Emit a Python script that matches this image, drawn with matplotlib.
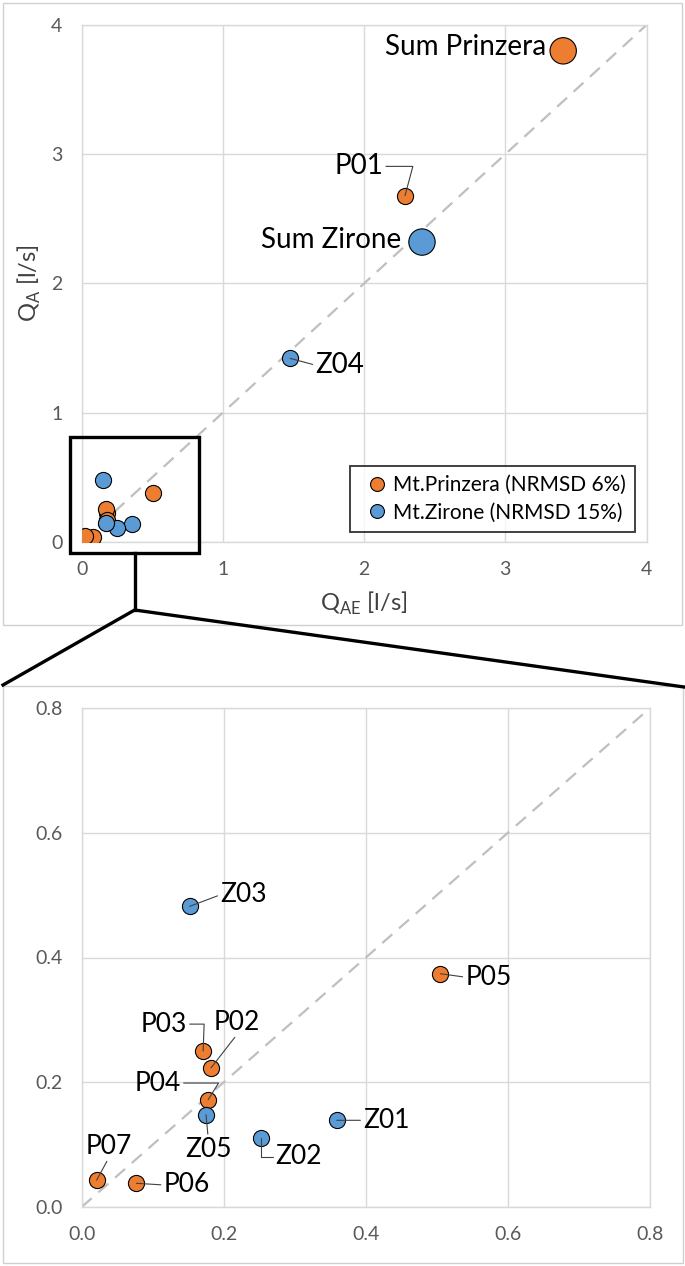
import numpy as np
import matplotlib
matplotlib.use('Agg')
import matplotlib.pyplot as plt
from matplotlib.patches import Rectangle
from matplotlib.lines import Line2D

plt.rcParams['font.family'] = ['Lato', 'DejaVu Sans']
plt.rcParams['mathtext.fontset'] = 'custom'
plt.rcParams['mathtext.rm'] = 'Lato'

# Daten
prinzera_names = ['P01', 'P02', 'P03', 'P04', 'P05', 'P06', 'P07']
prinzera_qae = [2.29, 0.182, 0.171, 0.178, 0.505, 0.077, 0.021]
prinzera_qa = [2.68, 0.223, 0.250, 0.172, 0.374, 0.038, 0.043]

zirone_names = ['Z01', 'Z02', 'Z03', 'Z04', 'Z05']
zirone_qae = [0.359, 0.252, 0.152, 1.475, 0.175]
zirone_qa = [0.139, 0.110, 0.482, 1.42, 0.148]

sum_names = ['Sum Prinzera', 'Sum Zirone']
sum_qae = [3.41, 2.41]
sum_qa = [3.80, 2.32]

legend_labels = ['Mt.Prinzera (NRMSD 6%)', 'Mt.Zirone (NRMSD 15%)']

top_ticks = [0, 1, 2, 3, 4]
bottom_ticks = [0.0, 0.2, 0.4, 0.6, 0.8]

ORANGE = '#ED7D31'
BLUE = '#5B9BD5'
GRID = '#D9D9D9'
TICK = '#595959'
LEAD = '#404040'

fig = plt.figure(figsize=(6.85, 12.66), dpi=100)
W, H = 685, 1266


def fig_rect(x0, y0, x1, y1):
    # pixel box (von oben) -> figure fraction
    return [x0 / W, 1 - y1 / H, (x1 - x0) / W, (y1 - y0) / H]


def style_axes(ax, ticks, fmt):
    ax.set_xlim(ticks[0], ticks[-1])
    ax.set_ylim(ticks[0], ticks[-1])
    ax.set_xticks(ticks)
    ax.set_yticks(ticks)
    ax.set_xticklabels([fmt.format(t) for t in ticks])
    ax.set_yticklabels([fmt.format(t) for t in ticks])
    ax.grid(True, color=GRID, lw=1.0)
    ax.set_axisbelow(True)
    for s in ax.spines.values():
        s.set_color(GRID)
        s.set_linewidth(1.0)
    ax.tick_params(length=0, labelsize=14, colors=TICK, pad=14)
    ax.plot([ticks[0], ticks[-1]], [ticks[0], ticks[-1]], ls=(0, (6, 4)),
            color='#BFBFBF', lw=1.6, zorder=1)


def label(ax, name, x, y, dx, dy, ha, va, relpos=None, conn='arc3', size=19):
    kw = {}
    if relpos is not None:
        kw['arrowprops'] = dict(arrowstyle='-', color=LEAD, lw=0.8, shrinkA=0, shrinkB=0,
                                relpos=relpos, connectionstyle=conn)
    ax.annotate(name, (x, y), xytext=(dx, dy), textcoords='offset points',
                ha=ha, va=va, fontsize=size, color='black', zorder=5, **kw)


# Panel-Rahmen
for box in [(3, 3, 682, 625), (3, 686, 683, 1263)]:
    fig.add_artist(Rectangle((box[0] / W, 1 - box[3] / H), (box[2] - box[0]) / W,
                             (box[3] - box[1]) / H, transform=fig.transFigure,
                             fill=False, ec='#D0D0D0', lw=1.0))

# ---------------- oben ----------------
ax1 = fig.add_axes(fig_rect(81.7, 25, 646.5, 541.8))
style_axes(ax1, top_ticks, '{:g}')
ms_small = 135
ax1.scatter(prinzera_qae, prinzera_qa, s=ms_small, c=ORANGE, edgecolors='black', lw=0.8, zorder=3)
ax1.scatter(zirone_qae, zirone_qa, s=ms_small, c=BLUE, edgecolors='black', lw=0.8, zorder=3)
ax1.scatter(sum_qae, sum_qa, s=360, c=[ORANGE, BLUE], edgecolors='black', lw=0.8, zorder=3)

label(ax1, sum_names[0], sum_qae[0], sum_qa[0], -12.5, 2.5, 'right', 'center', size=20)
label(ax1, sum_names[1], sum_qae[1], sum_qa[1], -15, 1.5, 'right', 'center', size=20)
label(ax1, prinzera_names[0], prinzera_qae[0], prinzera_qa[0], -15.8, 21, 'right', 'center',
      relpos=(1, 0.5), conn='angle,angleA=0,angleB=75,rad=0', size=20)
label(ax1, zirone_names[3], zirone_qae[3], zirone_qa[3], 18.3, -4.9, 'left', 'center',
      relpos=(0, 0.5), size=20)

ax1.set_xlabel(r'Q$_{\mathregular{AE}}$ [l/s]', fontsize=17, color='#404040', labelpad=8)
ax1.set_ylabel(r'Q$_{\mathregular{A}}$ [l/s]', fontsize=17, color='#404040', labelpad=6)

handles = [Line2D([], [], ls='', marker='o', ms=10, mfc=c, mec='black', mew=0.8)
           for c in (ORANGE, BLUE)]
leg = ax1.legend(handles, legend_labels, loc='lower right', bbox_to_anchor=(0.98, 0.019),
                 borderaxespad=0, fontsize=15, frameon=True, fancybox=False,
                 handletextpad=-0.1, handlelength=1.7, labelspacing=0.35,
                 borderpad=0.45)
leg.get_frame().set_edgecolor('black')
leg.get_frame().set_linewidth(1.3)

# Zoom-Rahmen und Verbindungslinien
zoom_box = (-0.08, -0.085, 0.83, 0.81)
ax1.add_patch(Rectangle((zoom_box[0], zoom_box[1]), zoom_box[2] - zoom_box[0],
                        zoom_box[3] - zoom_box[1], fill=False, ec='black', lw=2.4,
                        clip_on=False, zorder=6))
fig.canvas.draw()
bx, by = ax1.transData.transform(((zoom_box[0] + zoom_box[2]) / 2, zoom_box[1]))
bx, by = fig.transFigure.inverted().transform((bx, by))
knee_y = 1 - 610 / H
fig.add_artist(Line2D([bx, bx], [by, knee_y], transform=fig.transFigure, color='black', lw=2.4))
fig.add_artist(Line2D([3 / W, bx, 684 / W], [1 - 685 / H, knee_y, 1 - 687 / H],
                      transform=fig.transFigure, color='black', lw=2.4))

# ---------------- unten ----------------
ax2 = fig.add_axes(fig_rect(81.7, 708, 650, 1207))
style_axes(ax2, bottom_ticks, '{:.1f}')
ax2.scatter(prinzera_qae[1:], prinzera_qa[1:], s=ms_small, c=ORANGE, edgecolors='black', lw=0.8, zorder=3)
ax2.scatter([zirone_qae[i] for i in (0, 1, 2, 4)], [zirone_qa[i] for i in (0, 1, 2, 4)],
            s=ms_small, c=BLUE, edgecolors='black', lw=0.8, zorder=3)

# name: (dx, dy, ha, va, relpos, connectionstyle)
bottom_labels = {
    'Z03': (22, 8.3, 'left', 'center', (0, 0.5), 'arc3'),
    'P05': (18, -2.5, 'left', 'center', (0, 0.5), 'arc3'),
    'P03': (-11.7, 19.4, 'right', 'center', (1, 0.5), 'angle,angleA=0,angleB=88,rad=0'),
    'P02': (18.7, 33, 'center', 'center', (0.5, 0), 'arc3'),
    'P04': (-19.6, 12, 'right', 'center', (1, 0.5), 'angle,angleA=0,angleB=58,rad=0'),
    'Z05': (1.5, -25, 'center', 'center', (0.5, 1), 'arc3'),
    'Z02': (10.7, -13.2, 'left', 'center', (0, 0.5), 'angle,angleA=0,angleB=90,rad=0'),
    'Z01': (19, 0, 'left', 'center', (0, 0.5), 'arc3'),
    'P07': (8.5, 24.6, 'center', 'center', (0.5, 0), 'arc3'),
    'P06': (19.6, -1.2, 'left', 'center', (0, 0.5), 'arc3'),
}
pts = dict(zip(prinzera_names, zip(prinzera_qae, prinzera_qa)))
pts.update(dict(zip(zirone_names, zip(zirone_qae, zirone_qa))))
for name, (dx, dy, ha, va, rp, conn) in bottom_labels.items():
    x, y = pts[name]
    label(ax2, name, x, y, dx, dy, ha, va, relpos=rp, conn=conn, size=19)

fig.savefig('out.png', dpi=100)
